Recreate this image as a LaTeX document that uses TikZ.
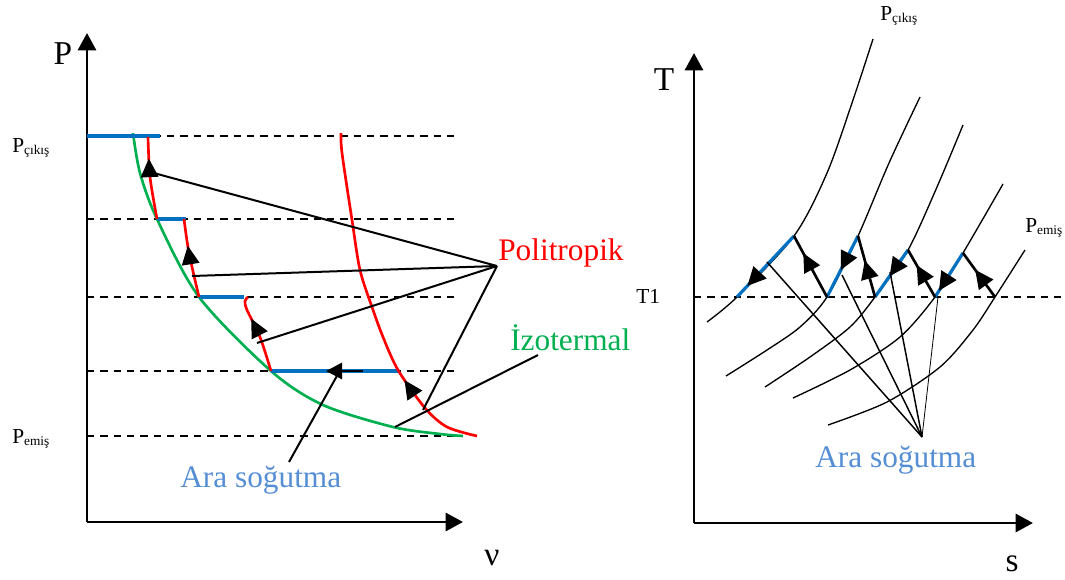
\documentclass[tikz,border=0pt]{standalone}
\usepackage{fontspec}
\setmainfont{Liberation Serif}
\usetikzlibrary{arrows.meta,decorations.markings}
\definecolor{cblue}{RGB}{0,112,192}
\definecolor{cgreen}{RGB}{0,176,80}
\definecolor{cred}{RGB}{255,0,0}
\definecolor{ctext}{RGB}{85,142,213}
\newcommand{\subsz}{\fontsize{10}{11}\selectfont}
\begin{document}
\begin{tikzpicture}[x=0.75pt,y=-0.75pt,
  axis/.style={line width=2.2pt,-{Triangle[length=13pt,width=13.5pt]}},
  dashln/.style={line width=1.3pt,dash pattern=on 5.5pt off 4.5pt},
  redc/.style={cred,line width=2pt},
  greenc/.style={cgreen,line width=2pt},
  bluec/.style={cblue,line width=2.4pt},
  leader/.style={line width=1.5pt},
  rleader/.style={line width=1.1pt},
  isobar/.style={line width=1pt},
  comp/.style={line width=2pt},
  mk/.style={postaction={decorate,decoration={markings,mark=at position #1 with {\arrow[black]{Triangle[length=14pt,width=13pt]}}}}},
  lbl/.style={font=\fontsize{23.5}{28}\selectfont,inner sep=0pt},
  axl/.style={font=\fontsize{25}{30}\selectfont,inner sep=0pt},
  pl/.style={font=\fontsize{16}{18}\selectfont,inner sep=0pt}
]
\useasboundingbox (0,0) rectangle (1065,579);

% ---------------- Left diagram ----------------
\coordinate (Lo) at (87,522);
\coordinate (Lyt) at (87,33);
\coordinate (Lxt) at (463,522);
\draw[axis] (Lo) -- (Lyt);
\draw[axis] (Lo) -- (Lxt);
\node[axl,anchor=base] (Plab) at (63,64) {P};
\node[axl,anchor=base] (nulab) at (492,565) {ν};

% dashed pressure levels
\foreach \yy/\nm in {136/a,219/b,297/c,371/d,436/e}{
  \coordinate (dl\nm) at (87,\yy);
  \coordinate (dr\nm) at (457,\yy);
  \draw[dashln] (dl\nm) -- (dr\nm);
}
\node[pl,anchor=base west] (pcl) at (12,152) {P\raisebox{-1.5pt}{\subsz çıkış}};
\node[pl,anchor=base west] (pel) at (12,443) {P\raisebox{-1.5pt}{\subsz emiş}};

% isotherm
\draw[greenc] plot[smooth] coordinates {(133,133) (140,173) (157,219) (199,297) (271,371) (323,405) (393,427) (440,434) (463,436)};

% blue intercooling segments
\coordinate (b1a) at (87,136); \coordinate (b1b) at (160,136);
\coordinate (b2a) at (157,219); \coordinate (b2b) at (186,219);
\coordinate (b3a) at (199,297); \coordinate (b3b) at (244,297);
\coordinate (b4a) at (271,371); \coordinate (b4b) at (398,371);
\draw[bluec] (b1a) -- (b1b);
\draw[bluec] (b2a) -- (b2b);
\draw[bluec] (b3a) -- (b3b);
\draw[bluec] (b4a) -- (b4b);
\coordinate (ca) at (363,371); \coordinate (cb) at (326,371);
\draw[line width=2.2pt,-{Triangle[length=12pt,width=12pt]}] (ca) -- (cb);

% polytropic curves
\draw[redc,mk=0.74] plot[smooth] coordinates {(157,219) (150,177) (148,137)};
\draw[redc,mk=0.66] plot[smooth] coordinates {(199,297) (189,253) (184,219)};
\draw[redc,mk=0.7] plot[smooth] coordinates {(271,371) (260,337) (247,310) (245,301) (248,297)};
\draw[redc,mk=0.27] plot[smooth] coordinates {(477,436) (447,427) (425,408) (398,370) (383,337) (372,307) (360,270) (352,220) (342,153) (341,133)};

% labels and leaders
\node[lbl,anchor=base west,text=cred] (poli) at (498,260) {Politropik};
\coordinate (pf) at (497,266);
\coordinate (p1) at (150,172);
\coordinate (p2) at (192,276);
\coordinate (p3) at (257,343);
\coordinate (p4) at (423,410);
\draw[leader] (pf) -- (p1);
\draw[leader] (pf) -- (p2);
\draw[leader] (pf) -- (p3);
\draw[leader] (pf) -- (p4);

\node[lbl,anchor=base west,text=cgreen] (izo) at (510,350) {İzotermal};
\coordinate (iz1) at (538,355);
\coordinate (iz2) at (395,427);
\draw[leader] (iz1) -- (iz2);

\node[lbl,anchor=base west,text=ctext] (aral) at (180,487) {Ara soğutma};
\coordinate (ar1) at (289,462);
\coordinate (ar2) at (338,374);
\draw[leader] (ar1) -- (ar2);

% ---------------- Right diagram ----------------
\coordinate (Ro) at (694,523);
\coordinate (Ryt) at (694,53);
\coordinate (Rxt) at (1033,523);
\draw[axis] (Ro) -- (Ryt);
\draw[axis] (Ro) -- (Rxt);
\node[axl,anchor=base] (Tlab) at (664,90) {T};
\node[axl,anchor=base] (slab) at (1012,571) {s};
\coordinate (t1l) at (694,297);
\coordinate (t1r) at (1065,297);
\draw[dashln] (t1l) -- (t1r);
\node[pl,anchor=base west] (t1) at (636,303) {T1};
\node[pl,anchor=base west] (pcr) at (880,20) {P\raisebox{-1.5pt}{\subsz çıkış}};
\node[pl,anchor=base west] (per) at (1025,232) {P\raisebox{-1.5pt}{\subsz emiş}};

% isobars
\draw[isobar] plot[smooth] coordinates {(707,322) (737,297) (794,236) (827,173) (853,100) (873,39)};
\draw[isobar] plot[smooth] coordinates {(726,376) (767,350) (800,327) (827,297) (858,236) (889,163) (920,97)};
\draw[isobar] plot[smooth] coordinates {(765,387) (810,357) (850,327) (875,297) (908,250) (937,187) (963,125)};
\draw[isobar] plot[smooth] coordinates {(793,398) (850,370) (900,337) (935,297) (963,253) (1003,184)};
\draw[isobar] plot[smooth] coordinates {(828,425) (887,402) (940,367) (973,330) (995,297) (1025,250)};

% intercooling (blue) and compression (black)
\coordinate (r1t) at (794,236); \coordinate (r1b) at (737,297);
\coordinate (r2t) at (858,236); \coordinate (r2b) at (827,297);
\coordinate (r3t) at (908,250); \coordinate (r3b) at (875,297);
\coordinate (r4t) at (963,253); \coordinate (r4b) at (935,297);
\coordinate (r5b) at (995,297);
\draw[bluec,mk=0.82] (r1t) -- (r1b);
\draw[bluec,mk=0.56] (r2t) -- (r2b);
\draw[bluec,mk=0.56] (r3t) -- (r3b);
\draw[bluec,mk=0.86] (r4t) -- (r4b);
\draw[comp,mk=0.72] (r2b) -- (r1t);
\draw[comp,mk=0.6] (r3b) -- (r2t);
\draw[comp,mk=0.68] (r4b) -- (r3t);
\draw[comp,mk=0.62] (r5b) -- (r4t);

% leaders
\coordinate (rf) at (922,437);
\coordinate (q1) at (767,262);
\coordinate (q2) at (842,275);
\coordinate (q3) at (890,272);
\coordinate (q4) at (938,297);
\draw[rleader] (rf) -- (q1);
\draw[rleader] (rf) -- (q2);
\draw[rleader] (rf) -- (q3);
\draw[line width=0.6pt] (rf) -- (q4);
\node[lbl,anchor=base west,text=ctext] (arar) at (815,467) {Ara soğutma};
\end{tikzpicture}
\end{document}
